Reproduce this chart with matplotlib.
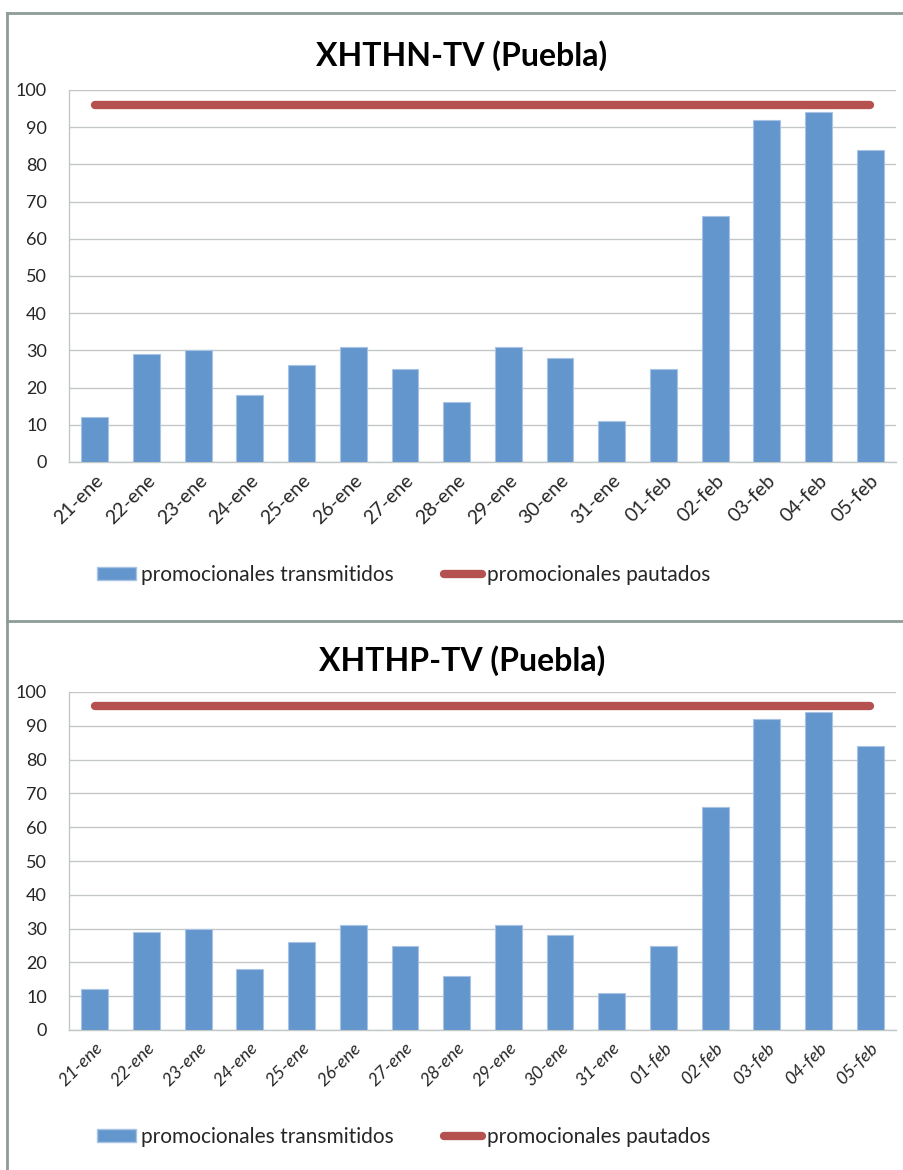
from __future__ import annotations

import matplotlib

matplotlib.use("Agg")
import matplotlib.pyplot as plt
from matplotlib.lines import Line2D
from matplotlib.patches import Patch

DAYS = [
    "21-ene", "22-ene", "23-ene", "24-ene", "25-ene", "26-ene", "27-ene", "28-ene",
    "29-ene", "30-ene", "31-ene", "01-feb", "02-feb", "03-feb", "04-feb", "05-feb",
]
XHTHN_TRANSMITIDOS = [12, 29, 30, 18, 26, 31, 25, 16, 31, 28, 11, 25, 66, 92, 94, 84]
XHTHP_TRANSMITIDOS = [12, 29, 30, 18, 26, 31, 25, 16, 31, 28, 11, 25, 66, 92, 94, 84]
PAUTADOS = [96] * len(DAYS)
TITLES = ["XHTHN-TV (Puebla)", "XHTHP-TV (Puebla)"]
Y_TICKS = list(range(0, 101, 10))

BLUE = "#6396CD"
RED = "#B5524F"
GRID = "#C2C8C6"
FRAME = "#8E9C97"
TEXT = "#262626"

plt.rcParams["font.family"] = ["Lato", "DejaVu Sans"]


def draw_panel(fig, rect, title, title_y, legend_y, values, xfont=14, italic=False):
    ax = fig.add_axes(rect)
    x = list(range(len(DAYS)))
    ax.bar(x, values, width=0.52, color=BLUE, edgecolor="#A8C3E3", linewidth=0.8, zorder=3)
    ax.plot(x, PAUTADOS, color=RED, linewidth=6, solid_capstyle="round", zorder=4)

    ax.set_xlim(-0.5, len(DAYS) - 0.5)
    ax.set_ylim(0, 100)
    ax.set_yticks(Y_TICKS)
    ax.set_xticks(x)
    ax.set_xticklabels(DAYS, rotation=45, ha="right", rotation_mode="anchor",
                       fontsize=xfont, color=TEXT, fontstyle="italic" if italic else "normal")
    ax.tick_params(axis="y", length=0, pad=16, labelsize=13, labelcolor=TEXT)
    ax.tick_params(axis="x", length=0, pad=7)
    ax.yaxis.grid(True, color=GRID, linewidth=1, zorder=0)
    for side in ("top", "right"):
        ax.spines[side].set_visible(False)
    for side in ("left", "bottom"):
        ax.spines[side].set_color(GRID)
        ax.spines[side].set_linewidth(1)

    fig.text(0.511, title_y, title, ha="center", va="center", fontsize=23,
             fontweight="bold", color="#000000")

    handles = [
        Patch(facecolor=BLUE, edgecolor="#A8C3E3"),
        Line2D([0], [0], color=RED, linewidth=6, solid_capstyle="round"),
    ]
    ax.legend(handles, ["promocionales transmitidos", "promocionales pautados"],
              loc="center left", bbox_to_anchor=(97 / 904, legend_y), bbox_transform=fig.transFigure,
              ncol=2, frameon=False, fontsize=15, handlelength=1.85, handleheight=0.6,
              handletextpad=0.25, columnspacing=2.4, borderpad=0, borderaxespad=0,
              labelcolor=TEXT)
    return ax


def main() -> int:
    fig = plt.figure(figsize=(9.04, 11.7), dpi=100)

    # outer frame lines like the pasted Excel charts
    fig.add_artist(Line2D([7 / 904, 1], [1 - 13 / 1170] * 2, color=FRAME, linewidth=2))
    fig.add_artist(Line2D([7 / 904] * 2, [0, 1 - 13 / 1170], color=FRAME, linewidth=2))
    fig.add_artist(Line2D([7 / 904, 1], [1 - 621 / 1170] * 2, color=FRAME, linewidth=2))

    draw_panel(fig, [69 / 904, 1 - 462 / 1170, 827 / 904, 372 / 1170],
               TITLES[0], 1 - 56 / 1170, 1 - 575 / 1170, XHTHN_TRANSMITIDOS)
    draw_panel(fig, [69 / 904, 1 - 1030 / 1170, 827 / 904, 338 / 1170],
               TITLES[1], 1 - 661 / 1170, 1 - 1137 / 1170, XHTHP_TRANSMITIDOS,
               xfont=13, italic=True)

    fig.savefig("out.png", dpi=100)
    plt.close(fig)
    return 0


if __name__ == "__main__":
    raise SystemExit(main())
